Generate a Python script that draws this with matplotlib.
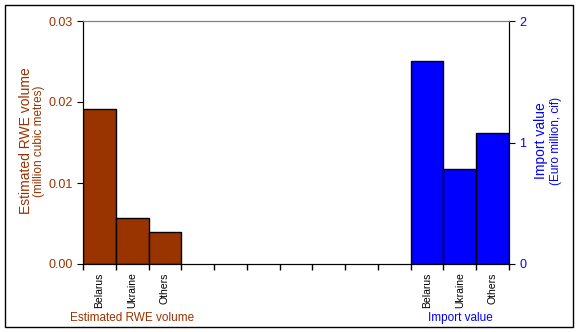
import matplotlib.pyplot as plt
from matplotlib.patches import Rectangle

plt.rcParams['font.family'] = ['Liberation Sans', 'DejaVu Sans']

#data
countries = ['Belarus', 'Ukraine', 'Others']
rwe_volume = [0.0191, 0.0057, 0.0040]     # million cubic metres
import_value = [1.67, 0.78, 1.075]       # Euro million, cif
N_SLOTS = 13

BROWN = '#993300'
BLUE = '#0000FF'

fig = plt.figure(figsize=(5.77, 3.32), dpi=100)
W, H = 577, 332
ax = fig.add_axes([83 / W, (H - 264) / H, (509 - 83) / W, (264 - 21) / H])
ax2 = ax.twinx()

left_pos = [i + 0.5 for i in range(len(countries))]
right_pos = [N_SLOTS - len(countries) + i + 0.5 for i in range(len(countries))]

ax.bar(left_pos, rwe_volume, width=1, color=BROWN, edgecolor='black', linewidth=1)
ax2.bar(right_pos, import_value, width=1, color=BLUE, edgecolor='black', linewidth=1)

ax.set_xlim(0, N_SLOTS)
ax.set_ylim(0, 0.03)
ax2.set_ylim(0, 2)
ax.set_yticks([0, 0.01, 0.02, 0.03])
ax.set_yticklabels(['0.00', '0.01', '0.02', '0.03'])
ax2.set_yticks([0, 1, 2])

ax.set_xticks(range(N_SLOTS + 1))
ax.set_xticklabels([])
ax.set_xticks(left_pos + right_pos, minor=True)
ax.set_xticklabels(countries + countries, minor=True, rotation=90, fontsize=7.5)
ax.tick_params(axis='x', which='minor', length=0, pad=6)
ax.tick_params(axis='x', which='major', length=4, width=1, direction='out')

ax.tick_params(axis='y', colors=BROWN, labelsize=9, length=4, direction='out')
ax.tick_params(axis='y', which='both', color='black')
ax2.tick_params(axis='y', colors=BLUE, labelsize=9, length=4, direction='out')
ax2.tick_params(axis='y', color='black')

for a in (ax, ax2):
  a.spines['top'].set_color('#808080')
  for s in ('left', 'right', 'bottom'):
      a.spines[s].set_color('black')

#axis titles
fig.text(26 / W, 1 - 141 / H, 'Estimated RWE volume', rotation=90, color=BROWN,
       fontsize=10, ha='center', va='center')
fig.text(39 / W, 1 - 141 / H, '(million cubic metres)', rotation=90, color=BROWN,
       fontsize=8.5, ha='center', va='center')
fig.text(541 / W, 1 - 141 / H, 'Import value', rotation=90, color=BLUE,
       fontsize=10, ha='center', va='center')
fig.text(556 / W, 1 - 141 / H, '(Euro million, cif)', rotation=90, color=BLUE,
       fontsize=8.5, ha='center', va='center')

fig.text(132 / W, 1 - 318 / H, 'Estimated RWE volume', color=BROWN,
       fontsize=8.5, ha='center', va='center')
fig.text(460 / W, 1 - 318 / H, 'Import value', color=BLUE,
       fontsize=8.5, ha='center', va='center')

fig.patches.append(Rectangle((5 / W, 5 / H), 568 / W, 322 / H, transform=fig.transFigure,
                           fill=False, edgecolor='black', linewidth=1))

fig.savefig('out.png', dpi=100)
